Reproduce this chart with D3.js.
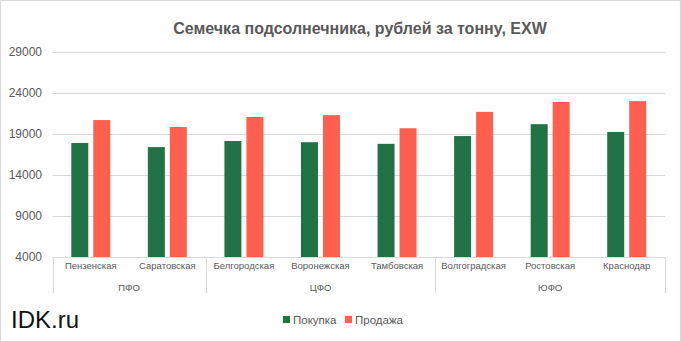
<!DOCTYPE html>
<html><head><meta charset="utf-8">
<script src="https://cdn.jsdelivr.net/npm/d3@7"></script>
<style>body{margin:0;background:#fff}svg{display:block}text{font-family:"Liberation Sans",Arial,sans-serif}</style>
</head><body>
<svg id="c" width="681" height="342"></svg>
<script>
const categories = ["Пензенская","Саратовская","Белгородская","Воронежская","Тамбовская","Волгоградская","Ростовская","Краснодар"];
const groups = [{name:"ПФО", from:0, to:2},{name:"ЦФО", from:2, to:5},{name:"ЮФО", from:5, to:8}];
const seriesNames = ["Покупка","Продажа"];
const buy  = [17900, 17400, 18150, 18000, 17800, 18750, 20200, 19250];
const sell = [20700, 19850, 21070, 21300, 19700, 21700, 22900, 23000];
const yTicks = [4000, 9000, 14000, 19000, 24000, 29000];
const colors = ["#217346", "#FF5F4F"];

const svg = d3.select("#c");
const L = 52.5, R = 665, T = 52, B = 257;
svg.append("rect").attr("x",0.5).attr("y",0.5).attr("width",680).attr("height",341)
  .attr("fill","#fff").attr("stroke","#d9d9d9").attr("stroke-width",1.2);

const y = d3.scaleLinear().domain([4000, 29000]).range([B, T]);
const x0 = d3.scaleBand().domain(categories).range([L, R]).padding(0);
const x1 = d3.scaleBand().domain(seriesNames).range([0, x0.bandwidth()]).paddingInner(0.227).paddingOuter(0.855);

// gridlines
svg.append("g").selectAll("line").data(yTicks.slice(1)).join("line")
  .attr("x1", L).attr("x2", R).attr("y1", d=>Math.round(y(d))+0.5).attr("y2", d=>Math.round(y(d))+0.5)
  .attr("stroke","#d9d9d9").attr("stroke-width",1);

// y labels
const yAxis = d3.axisLeft(y).tickValues(yTicks).tickSize(0).tickPadding(0).tickFormat(d3.format("d"));
const yg = svg.append("g").attr("transform",`translate(42,0)`).call(yAxis);
yg.select(".domain").remove();
yg.selectAll("text").attr("fill","#595959").style("font-size","12px").style("font-family","'Liberation Sans',Arial,sans-serif");

// bars
const data = categories.map((c,i)=>({c, vals:[buy[i], sell[i]]}));
const gBars = svg.append("g");
gBars.selectAll("g").data(data).join("g")
  .attr("transform", d=>`translate(${x0(d.c)},0)`)
  .selectAll("rect").data(d=>d.vals.map((v,j)=>({s:seriesNames[j], v, j}))).join("rect")
  .attr("x", d=>x1(d.s)).attr("width", x1.bandwidth())
  .attr("y", d=>y(d.v)).attr("height", d=>y(4000)-y(d.v))
  .attr("fill", d=>colors[d.j]);

// x axis baseline
svg.append("line").attr("x1",L).attr("x2",R).attr("y1",B+0.5).attr("y2",B+0.5).attr("stroke","#d9d9d9");
// group separators
const seps = [0, 2, 5, 8].map(i => i < categories.length ? x0(categories[i]) : R);
svg.append("g").selectAll("line").data(seps).join("line")
  .attr("x1", d=>Math.round(d)+0.5).attr("x2", d=>Math.round(d)+0.5).attr("y1", B).attr("y2", 293)
  .attr("stroke","#d9d9d9");

// category labels
const xAxis = d3.axisBottom(x0).tickSize(0).tickPadding(0);
const xg = svg.append("g").attr("transform",`translate(0,${B+5})`).call(xAxis);
xg.select(".domain").remove();
xg.selectAll("text").attr("fill","#595959").style("font-size","9.5px").style("font-family","'Liberation Sans',Arial,sans-serif");

// group labels
svg.append("g").selectAll("text").data(groups).join("text")
  .attr("x", g => (x0(categories[g.from]) + (g.to < categories.length ? x0(categories[g.to]) : R))/2)
  .attr("y", 291).attr("text-anchor","middle").attr("fill","#595959").style("font-size","9.5px")
  .text(g=>g.name);

// title
svg.append("text").attr("x", 360).attr("y", 34).attr("text-anchor","middle")
  .attr("fill","#595959").style("font-size","16px").style("font-weight","bold")
  .text("Семечка подсолнечника, рублей за тонну, EXW");

// legend
const leg = svg.append("g");
const legX = [283, 345];
seriesNames.forEach((s,i)=>{
  leg.append("rect").attr("x", legX[i]).attr("y", 316).attr("width",7).attr("height",7).attr("fill",colors[i]);
  leg.append("text").attr("x", legX[i]+10).attr("y", 324).attr("fill","#595959").style("font-size","11.5px").text(s);
});

// watermark
svg.append("text").attr("x", 11).attr("y", 328).attr("fill","#111").style("font-size","24px").text("IDK.ru");
</script>
</body></html>
